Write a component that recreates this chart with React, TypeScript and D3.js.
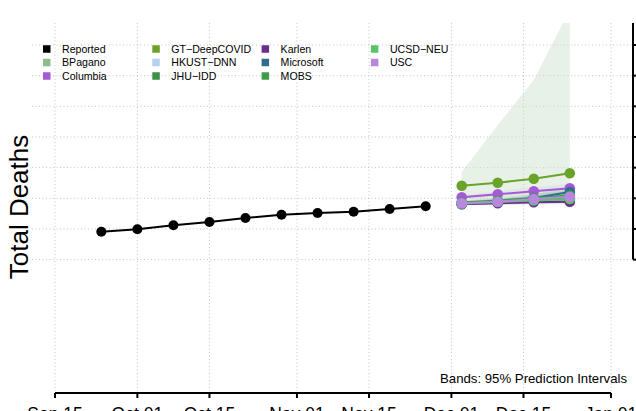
import React from "react";
import * as d3 from "d3";

const W = 636;
const H = 411;

// ---------- data ----------
const reportedDates = [
  "2020-09-24", "2020-10-01", "2020-10-08", "2020-10-15", "2020-10-22",
  "2020-10-29", "2020-11-05", "2020-11-12", "2020-11-19", "2020-11-26",
];
const reportedValues = [2910, 2988, 3119, 3226, 3357, 3465, 3520, 3562, 3651, 3739];

const forecastDates = ["2020-12-03", "2020-12-10", "2020-12-17", "2020-12-24"];

const models = [
  "BPagano", "Columbia", "GT\u2212DeepCOVID", "HKUST\u2212DNN", "JHU\u2212IDD",
  "Karlen", "Microsoft", "MOBS", "UCSD\u2212NEU", "USC",
];
const modelColors = [
  "#8fbc8f", "#a45ad6", "#6aa329", "#b8cff0", "#3d9147",
  "#6b2f8c", "#2d6e8c", "#3f9a4d", "#55c567", "#b987e0",
];
const bPaganoValues = [3814, 3863, 3912, 3960];
const columbiaValues = [4032, 4130, 4228, 4326];
const gtValues = [4407, 4508, 4636, 4818];
const hkustValues = [3846, 3912, 3977, 4042];
const jhuValues = [3846, 3895, 3944, 4009];
const karlenValues = [3804, 3837, 3869, 3889];
const microsoftValues = [3814, 3879, 4009, 4205];
const mobsValues = [3863, 3928, 4009, 4091];
const ucsdValues = [3830, 3879, 3928, 3977];
const uscValues = [3836, 3889, 3977, 4052];

const bPaganoLower = [3780, 3800, 3820, 3840];
const bPaganoUpper = [3860, 3930, 4000, 4080];
const columbiaLower = [3960, 4030, 4100, 4170];
const columbiaUpper = [4100, 4230, 4360, 4480];
const gtLower = [3781, 3800, 3830, 3860];
const gtUpper = [4857, 6390, 7858, 10150];
const hkustLower = [3790, 3820, 3850, 3880];
const hkustUpper = [3900, 4000, 4100, 4200];
const jhuLower = [3790, 3810, 3830, 3850];
const jhuUpper = [3910, 3990, 4070, 4160];
const karlenLower = [3780, 3790, 3800, 3810];
const karlenUpper = [3830, 3880, 3930, 3980];
const microsoftLower = [3790, 3820, 3890, 4030];
const microsoftUpper = [3850, 3950, 4120, 4380];
const mobsLower = [3800, 3840, 3880, 3920];
const mobsUpper = [3930, 4020, 4130, 4250];
const ucsdLower = [3790, 3820, 3850, 3880];
const ucsdUpper = [3870, 3940, 4010, 4080];
const uscLower = [3790, 3820, 3870, 3920];
const uscUpper = [3890, 3970, 4080, 4190];

const modelValues = [
  bPaganoValues, columbiaValues, gtValues, hkustValues, jhuValues,
  karlenValues, microsoftValues, mobsValues, ucsdValues, uscValues,
];
const modelLower = [
  bPaganoLower, columbiaLower, gtLower, hkustLower, jhuLower,
  karlenLower, microsoftLower, mobsLower, ucsdLower, uscLower,
];
const modelUpper = [
  bPaganoUpper, columbiaUpper, gtUpper, hkustUpper, jhuUpper,
  karlenUpper, microsoftUpper, mobsUpper, ucsdUpper, uscUpper,
];

const xTickDates = [
  "2020-09-15", "2020-10-01", "2020-10-15", "2020-11-01",
  "2020-11-15", "2020-12-01", "2020-12-15", "2021-01-01",
];
const xTickLabels = ["Sep 15", "Oct 01", "Oct 15", "Nov 01", "Nov 15", "Dec 01", "Dec 15", "Jan 01"];
const yTicks = [2000, 3000, 4000, 5000, 6000, 7000, 8000, 9000];

const legendLabels = ["Reported", ...models];
const legendColors = ["#000000", ...modelColors];

// ---------- layout ----------
const plotLeft = 32;
const plotRight = 633;
const plotTop = 23;
const plotBottom = 393;

const parse = (s: string) => new Date(s + "T00:00:00Z");

const x = d3.scaleUtc()
  .domain([parse(xTickDates[0]), parse(xTickDates[xTickDates.length - 1])])
  .range([55, 611]);
const y = d3.scaleLinear()
  .domain([yTicks[0], yTicks[yTicks.length - 1]])
  .range([259.6, 45]);

const FONT = "'Liberation Sans', Arial, Helvetica, sans-serif";

export default function App() {
  const line = d3.line<[Date, number]>()
    .x((d) => x(d[0]))
    .y((d) => y(d[1]));
  const area = d3.area<[Date, number, number]>()
    .x((d) => x(d[0]))
    .y0((d) => y(d[1]))
    .y1((d) => y(d[2]));

  const reported: [Date, number][] = reportedDates.map((d, i) => [parse(d), reportedValues[i]]);
  const fDates = forecastDates.map(parse);

  const gridColor = "#c4c4c4";

  return (
    <svg
      width={W}
      height={H}
      style={{ position: "fixed", left: 0, top: 0, display: "block", background: "#fff" }}
      fontFamily={FONT}
    >
      <defs>
        <clipPath id="plotClip">
          <rect x={plotLeft} y={plotTop} width={plotRight - plotLeft} height={plotBottom - plotTop} />
        </clipPath>
      </defs>

      {/* grid */}
      <g>
        {yTicks.map((t) => (
          <line key={"h" + t} x1={plotLeft} x2={plotRight} y1={y(t)} y2={y(t)}
            stroke={gridColor} strokeWidth={1} strokeDasharray="1,2.5" />
        ))}
        {xTickDates.map((t) => (
          <line key={"v" + t} x1={x(parse(t))} x2={x(parse(t))} y1={plotTop} y2={plotBottom - 2}
            stroke={gridColor} strokeWidth={1} strokeDasharray="1,2.5" />
        ))}
      </g>

      {/* bands */}
      <g clipPath="url(#plotClip)">
        {models.map((m, k) => (
          <path key={"band" + m}
            d={area(fDates.map((d, i) => [d, modelLower[k][i], modelUpper[k][i]]))!}
            fill={k === 2 ? "#c9e0c9" : modelColors[k]}
            fillOpacity={k === 2 ? 0.45 : 0.12}
            stroke="none" />
        ))}
      </g>

      {/* reported */}
      <g>
        <path d={line(reported)!} fill="none" stroke="#000" strokeWidth={2} />
        {reported.map((d, i) => (
          <circle key={"r" + i} cx={x(d[0])} cy={y(d[1])} r={5} fill="#000" />
        ))}
      </g>

      {/* forecasts */}
      <g clipPath="url(#plotClip)">
        {models.map((m, k) => {
          const pts: [Date, number][] = fDates.map((d, i) => [d, modelValues[k][i]]);
          return (
            <g key={"f" + m}>
              <path d={line(pts)!} fill="none" stroke={modelColors[k]} strokeWidth={2} />
              {pts.map((p, i) => (
                <circle key={i} cx={x(p[0])} cy={y(p[1])} r={5.3} fill={modelColors[k]} />
              ))}
            </g>
          );
        })}
      </g>

      {/* legend */}
      <g fontSize={10.6}>
        {legendLabels.map((lab, i) => {
          const col = Math.floor(i / 3);
          const row = i % 3;
          const lx = 43 + col * 109.3;
          const ly = 49 + row * 13.5;
          return (
            <g key={"lg" + lab}>
              <rect x={lx} y={ly - 3.75} width={7.5} height={7.5} fill={legendColors[i]} />
              <text x={lx + 19} y={ly + 3.8} fill="#000">{lab}</text>
            </g>
          );
        })}
      </g>

      {/* bottom-right note */}
      <text x={627} y={383.3} textAnchor="end" fontSize={13.2} fill="#000">
        Bands: 95% Prediction Intervals
      </text>

      {/* x axis */}
      <g>
        <line x1={x(parse(xTickDates[0]))} x2={x(parse(xTickDates[xTickDates.length - 1]))}
          y1={plotBottom} y2={plotBottom} stroke="#000" strokeWidth={2} />
        {xTickDates.map((t, i) => (
          <g key={"xt" + t}>
            <line x1={x(parse(t))} x2={x(parse(t))} y1={plotBottom} y2={plotBottom + 5}
              stroke="#000" strokeWidth={2} />
            <text x={x(parse(t))} y={420} textAnchor="middle" fontSize={17.5} fill="#000">
              {xTickLabels[i]}
            </text>
          </g>
        ))}
      </g>

      {/* right y axis */}
      <g>
        <line x1={plotRight} x2={plotRight} y1={plotTop} y2={y(yTicks[0])} stroke="#000" strokeWidth={2} />
        {yTicks.map((t) => (
          <line key={"yt" + t} x1={plotRight} x2={plotRight + 5} y1={y(t)} y2={y(t)}
            stroke="#000" strokeWidth={2} />
        ))}
      </g>

      {/* y title */}
      <text transform={`translate(28,207) rotate(-90)`} textAnchor="middle" fontSize={26} fill="#000">
        Total Deaths
      </text>
    </svg>
  );
}
